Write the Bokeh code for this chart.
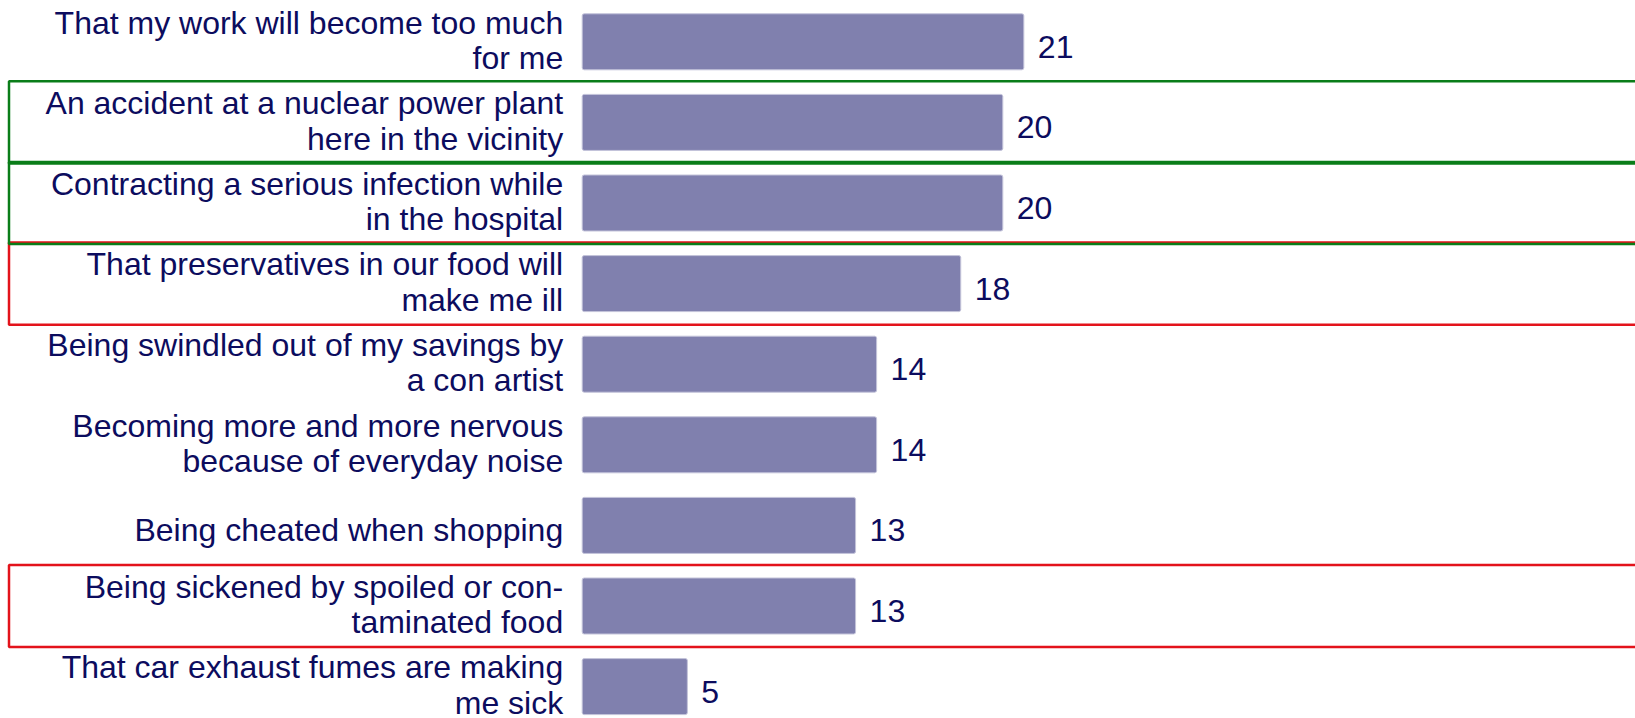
from bokeh.plotting import figure
from bokeh.models import Range1d, ColumnDataSource
from bokeh.core.properties import value
from bokeh.embed import file_html
from bokeh.resources import INLINE

categories = [
    "That my work will become too much\nfor me",
    "An accident at a nuclear power plant\nhere in the vicinity",
    "Contracting a serious infection while\nin the hospital",
    "That preservatives in our food will\nmake me ill",
    "Being swindled out of my savings by\na con artist",
    "Becoming more and more nervous\nbecause of everyday noise",
    "Being cheated when shopping",
    "Being sickened by spoiled or con-\ntaminated food",
    "That car exhaust fumes are making\nme sick",
]
values = [21, 20, 20, 18, 14, 14, 13, 13, 5]
green_boxes = [1, 2]
red_boxes = [3, 7]

BAR_COLOR = "#8080ae"
TEXT_COLOR = "#0c0c5e"
GREEN = "#0a7d19"
RED = "#e3131b"
FONT = "Liberation Sans"

W, H_PX = 1635, 718
PX_PER_UNIT = 21.03
BAR0_PX = 581.7
ROW0_PX = 41.3
ROW_PX = 80.6

idx = list(range(len(categories)))
src = ColumnDataSource(dict(
    y=idx, v=values, cat=categories,
    lbl=[str(v) for v in values],
    zero=[0] * len(values),
    yoff=[-1.5 if "\n" in c else 5 for c in categories],
))

x_start = -BAR0_PX / PX_PER_UNIT
x_end = (W - BAR0_PX) / PX_PER_UNIT
y_top = -ROW0_PX / ROW_PX
y_bot = (H_PX - ROW0_PX) / ROW_PX

p = figure(width=W, height=H_PX, output_backend="svg", toolbar_location=None,
           x_range=Range1d(x_start, x_end), y_range=Range1d(y_bot, y_top),
           min_border=0)
p.axis.visible = False
p.grid.visible = False
p.outline_line_color = None
p.background_fill_color = "white"
p.border_fill_color = "white"

# highlight boxes (red first, green on top)
H = 0.51
box_left = x_start + 8.5 / PX_PER_UNIT
rb = ColumnDataSource(dict(top=[i - H for i in red_boxes], bottom=[i + H for i in red_boxes]))
gb = ColumnDataSource(dict(top=[i - H for i in green_boxes], bottom=[i + H for i in green_boxes]))
p.quad(left=box_left, right=x_end + 5, top="top", bottom="bottom", source=rb,
       fill_color=None, line_color=RED, line_width=2.5)
p.quad(left=box_left, right=x_end + 5, top="top", bottom="bottom", source=gb,
       fill_color=None, line_color=GREEN, line_width=2.5)

p.hbar(y="y", left=0, right="v", height=0.695, source=src,
       fill_color=BAR_COLOR, line_color="#c4c4da", line_width=1, border_radius=2)

p.text(x="v", y="y", text="lbl", source=src, x_offset=14, y_offset=5,
       text_align="left", text_baseline="middle", text_color=TEXT_COLOR,
       text_font=value(FONT), text_font_size="32px")

p.text(x="zero", y="y", text="cat", source=src, x_offset=-19, y_offset="yoff",
       text_align="right", text_baseline="middle", text_color=TEXT_COLOR,
       text_font=value(FONT), text_font_size="32px", text_line_height=0.98)

open("out.html", "w").write(file_html(p, INLINE))
